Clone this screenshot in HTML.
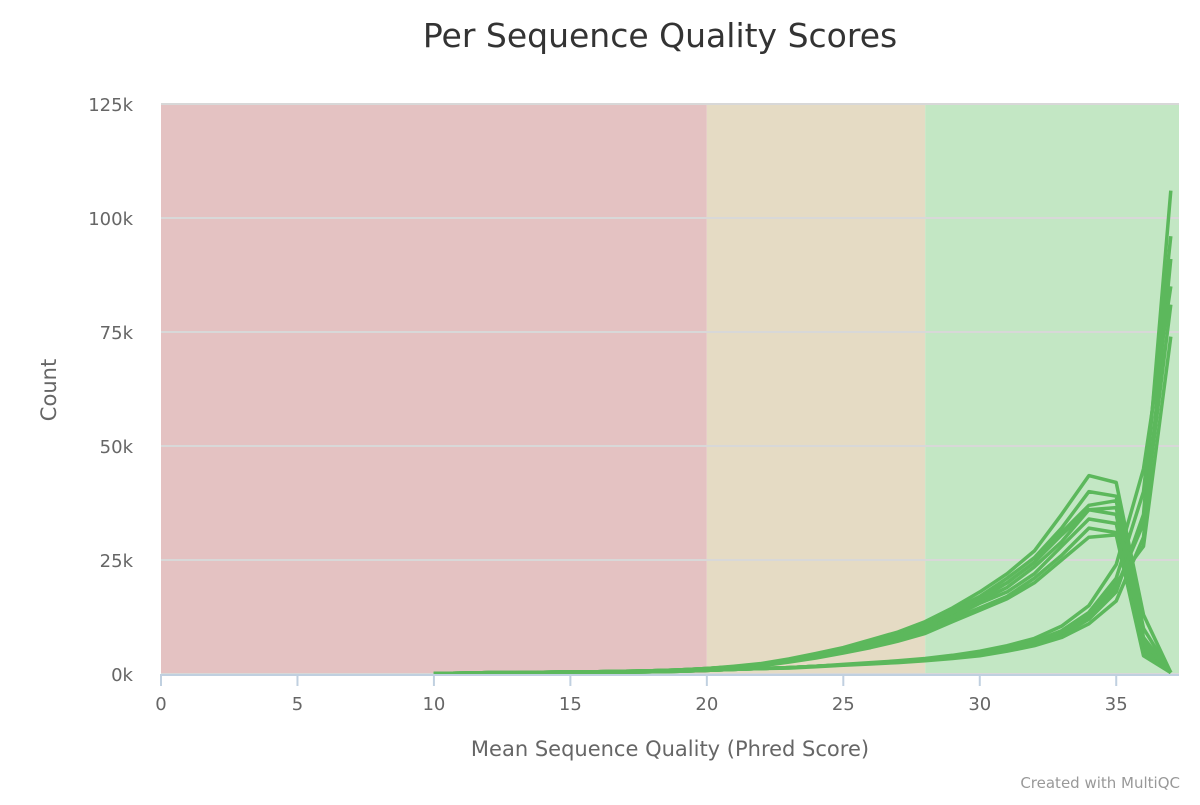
<!DOCTYPE html>
<html><head><meta charset="utf-8"><style>
body{margin:0;background:#fff;width:1200px;height:800px;overflow:hidden;font-family:"Liberation Sans","DejaVu Sans",sans-serif}
</style></head><body>
<svg id="chart" width="1200" height="800" xmlns="http://www.w3.org/2000/svg">
<text x="660" y="47" text-anchor="middle" font-size="33" fill="#333" font-family="DejaVu Sans, sans-serif">Per Sequence Quality Scores</text>
<text transform="translate(56,390) rotate(-90)" text-anchor="middle" font-size="21" fill="#666" font-family="DejaVu Sans, sans-serif">Count</text>
<text x="670" y="756" text-anchor="middle" font-size="21" fill="#666" font-family="DejaVu Sans, sans-serif">Mean Sequence Quality (Phred Score)</text>
<text x="1180" y="788" text-anchor="end" font-size="15" fill="#999" font-family="DejaVu Sans, sans-serif">Created with MultiQC</text>
<g id="bands"></g><g id="grid"></g><g id="series"></g><g id="axes"></g>
</svg>
<script>
const xTicks=[0,5,10,15,20,25,30,35];
const yTicks=[0,25,50,75,100,125];
const yTickLabels=["0k","25k","50k","75k","100k","125k"];
const bands=[[0,20,"#e4c2c2"],[20,28,"#e5dbc4"],[28,37.3,"#c3e7c4"]];
const xStart=10;
const sA1=[0.1,0.2,0.3,0.3,0.4,0.5,0.5,0.6,0.7,0.9,1.2,1.7,2.3,3.3,4.5,5.8,7.5,9.2,11.5,14.5,18,22,27,35,43.5,42,13,0.3];
const sA2=[0.1,0.2,0.3,0.3,0.4,0.5,0.5,0.6,0.7,0.9,1.2,1.6,2.2,3.1,4.3,5.6,7.2,8.8,11,14,17,21,25.5,32,40,39,10,0.3];
const sA3=[0.1,0.2,0.3,0.3,0.4,0.5,0.5,0.6,0.7,0.9,1.2,1.6,2.1,3,4.1,5.4,6.9,8.5,10.5,13.5,16.5,20,24.5,31,37,38,8,0.3];
const sA4=[0.1,0.2,0.3,0.3,0.4,0.5,0.5,0.6,0.7,0.8,1.1,1.5,2,2.9,4,5.2,6.6,8.2,10,13,16,19,23.5,29,36,35,6,0.3];
const sA5=[0.1,0.2,0.3,0.3,0.4,0.4,0.5,0.6,0.7,0.8,1.1,1.5,2,2.8,3.8,5,6.3,7.9,9.6,12.5,15.5,18,22,28,34,33,5,0.3];
const sA6=[0.1,0.2,0.3,0.3,0.3,0.4,0.5,0.6,0.7,0.8,1.1,1.4,1.9,2.7,3.6,4.8,6,7.5,9.2,12,14.5,17,21,26,32,31,4.5,0.3];
const sA7=[0.1,0.2,0.3,0.3,0.3,0.4,0.5,0.6,0.6,0.8,1,1.4,1.8,2.6,3.5,4.6,5.8,7.2,8.9,11.5,14,16.5,20,25,30,30.5,4,0.3];
const sA8=[0.1,0.2,0.3,0.3,0.4,0.5,0.5,0.6,0.7,0.9,1.2,1.6,2.1,3,4.1,5.4,6.9,8.5,10.5,13.5,16.5,20,24.5,30.5,36,36.5,7,0.3];
const sB1=[0.1,0.1,0.1,0.2,0.3,0.3,0.4,0.4,0.5,0.6,0.8,1,1.2,1.4,1.7,2,2.3,2.6,3,3.5,4.2,5.2,6.5,8.5,12,18,35,106];
const sB2=[0.1,0.1,0.1,0.2,0.3,0.3,0.4,0.4,0.5,0.6,0.8,1,1.2,1.4,1.7,2,2.4,2.8,3.3,3.9,4.7,5.8,7.2,9.5,13.5,21,40,96];
const sB3=[0.1,0.1,0.1,0.2,0.3,0.3,0.4,0.4,0.5,0.6,0.8,1,1.2,1.3,1.6,1.9,2.2,2.5,2.9,3.4,4,5,6.2,8,11,16,30,91];
const sB4=[0.1,0.1,0.1,0.2,0.3,0.3,0.4,0.4,0.5,0.6,0.8,1,1.2,1.4,1.7,2.1,2.5,2.9,3.4,4.1,5,6.2,7.8,10.5,15,24,45,85];
const sB5=[0.1,0.1,0.1,0.2,0.3,0.3,0.4,0.4,0.5,0.6,0.8,1,1.2,1.4,1.7,2,2.4,2.7,3.1,3.7,4.5,5.5,6.9,9,12.5,19,33,81];
const sB6=[0.1,0.1,0.1,0.2,0.3,0.3,0.4,0.4,0.5,0.6,0.8,1,1.2,1.4,1.7,2,2.3,2.7,3.2,3.8,4.6,5.6,7,9.2,13,20,28,74];
const allSeries=[sA1,sA2,sA3,sA4,sA5,sA6,sA7,sA8,sB1,sB2,sB3,sB4,sB5,sB6];
const L=161,R=1179,T=104,B=674,XMAX=37.3,YMAX=125;
const sx=v=>L+v*(R-L)/XMAX, sy=v=>B-v*(B-T)/YMAX;
const NS="http://www.w3.org/2000/svg";
function mk(t,p,a){const e=document.createElementNS(NS,t);for(const k in a)e.setAttribute(k,a[k]);p.appendChild(e);return e;}
const gb=document.getElementById('bands'),gg=document.getElementById('grid'),gs=document.getElementById('series'),ga=document.getElementById('axes');
bands.forEach((b,i)=>{const r=mk('rect',gb,{x:sx(b[0]),y:T,width:sx(b[1])-sx(b[0]),height:B-T,fill:b[2]});

});
yTicks.forEach((v,i)=>{const l=mk('line',gg,{x1:L,x2:R,y1:sy(v),y2:sy(v),stroke:'#d8d8d8','stroke-width':2});


const t=mk('text',ga,{x:133,y:sy(v)+7,'text-anchor':'end','font-size':18,fill:'#666','font-family':'DejaVu Sans, sans-serif'});t.textContent=yTickLabels[i];

});
allSeries.forEach((s,i)=>{const d=s.map((v,j)=>(j?'L':'M')+sx(xStart+j).toFixed(1)+','+sy(v).toFixed(1)).join('');
const p=mk('path',gs,{d:d,fill:'none',stroke:'#5cb85c','stroke-width':3.5,'stroke-linejoin':'round'});

});
const ax=mk('line',ga,{x1:L,x2:R,y1:B+1,y2:B+1,stroke:'#c0d0e0','stroke-width':2});


xTicks.forEach(v=>{const tk=mk('line',ga,{x1:sx(v),x2:sx(v),y1:B,y2:B+12,stroke:'#c0d0e0','stroke-width':2});


const t=mk('text',ga,{x:sx(v),y:710,'text-anchor':'middle','font-size':18,fill:'#666','font-family':'DejaVu Sans, sans-serif'});t.textContent=v;

});
</script>
</body></html>
